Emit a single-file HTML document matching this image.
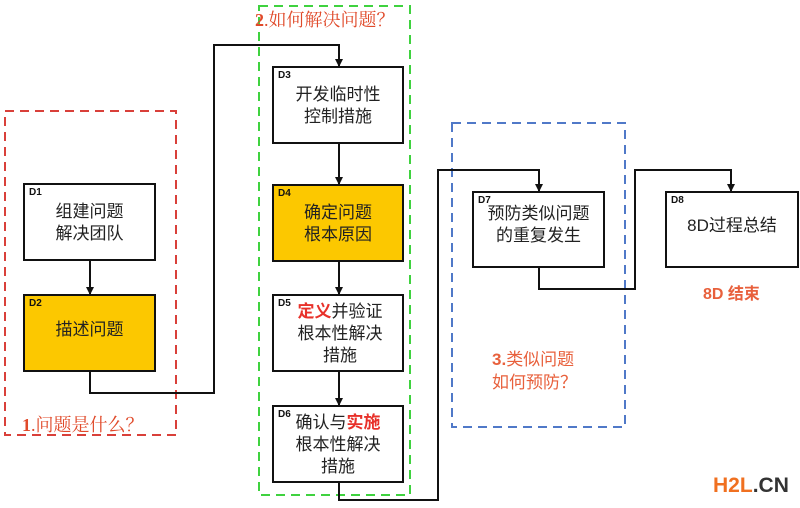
<!DOCTYPE html>
<html><head><meta charset="utf-8"><style>
body{margin:0;width:800px;height:508px;background:#fff;position:relative;overflow:hidden;font-family:"Liberation Sans","Noto Sans CJK SC",sans-serif}
.b{position:absolute;box-sizing:border-box;border:2.5px solid #111;background:#fff;text-align:center;font-size:17px;line-height:22px;color:#222}
.y{background:#fcc800}
.lb{position:absolute;left:4px;top:2px;font-size:10px;font-weight:bold;line-height:12px;color:#111}
.t{position:absolute;white-space:nowrap}
.r{color:#e8312a;font-weight:bold}
</style></head><body>
<svg width="800" height="508" style="position:absolute;left:0;top:0">
<defs><marker id="a" markerWidth="4" markerHeight="4" refX="3.5" refY="2" orient="auto"><path d="M0,0L4,2L0,4z" fill="#111"/></marker></defs>
<rect x="5" y="111" width="171" height="324" fill="none" stroke="#d9403a" stroke-width="2" stroke-dasharray="9,6"/>
<rect x="259" y="6" width="151" height="489" fill="none" stroke="#3fd23f" stroke-width="2" stroke-dasharray="9,6"/>
<rect x="452" y="123" width="173" height="304" fill="none" stroke="#5079c8" stroke-width="2" stroke-dasharray="9,6"/>
<g fill="none" stroke="#111" stroke-width="2">
<path d="M90,260V294" marker-end="url(#a)"/>
<path d="M90,371V393H214V45H339V66" marker-end="url(#a)"/>
<path d="M339,143V184" marker-end="url(#a)"/>
<path d="M339,261V294" marker-end="url(#a)"/>
<path d="M339,371V405" marker-end="url(#a)"/>
<path d="M339,482V500H438V170H539V191" marker-end="url(#a)"/>
<path d="M539,267V289H635V170H731V191" marker-end="url(#a)"/>
</g></svg>
<div class="b" style="left:23px;top:183px;width:133px;height:78px"><span class="lb">D1</span><div style="padding-top:16px">组建问题<br>解决团队</div></div>
<div class="b y" style="left:23px;top:294px;width:133px;height:78px"><span class="lb">D2</span><div style="padding-top:23px">描述问题</div></div>
<div class="b" style="left:272px;top:66px;width:132px;height:78px"><span class="lb">D3</span><div style="padding-top:16px">开发临时性<br>控制措施</div></div>
<div class="b y" style="left:272px;top:184px;width:132px;height:78px"><span class="lb">D4</span><div style="padding-top:16px">确定问题<br>根本原因</div></div>
<div class="b" style="left:272px;top:294px;width:132px;height:78px"><span class="lb">D5</span><div style="padding-top:5px;padding-left:4px"><span class="r">定义</span>并验证<br>根本性解决<br>措施</div></div>
<div class="b" style="left:272px;top:405px;width:132px;height:78px"><span class="lb">D6</span><div style="padding-top:5px">确认与<span class="r">实施</span><br>根本性解决<br>措施</div></div>
<div class="b" style="left:472px;top:191px;width:133px;height:77px"><span class="lb">D7</span><div style="padding-top:10px">预防类似问题<br>的重复发生</div></div>
<div class="b" style="left:665px;top:191px;width:134px;height:77px"><span class="lb">D8</span><div style="padding-top:22px">8D过程总结</div></div>
<div class="t" style="left:255px;top:6px;font-size:18px;color:#e04a2a;font-family:'Liberation Serif','Noto Serif CJK SC',serif"><b>2</b>.如何解决问题？</div>
<div class="t" style="left:22px;top:411px;font-size:18px;color:#e04a2a;font-family:'Liberation Serif','Noto Serif CJK SC',serif"><b>1</b>.问题是什么？</div>
<div class="t" style="left:492px;top:348px;font-size:17px;line-height:23px;color:#e8603c"><b>3.</b>类似问题<br>如何预防？</div>
<div class="t" style="left:703px;top:280px;font-size:16px;font-weight:bold;color:#e8603c">8D 结束</div>
<div class="t" style="left:713px;top:474px;font-size:21px;font-weight:bold;color:#f07020">H2L<span style="color:#333">.CN</span></div>
</body></html>
